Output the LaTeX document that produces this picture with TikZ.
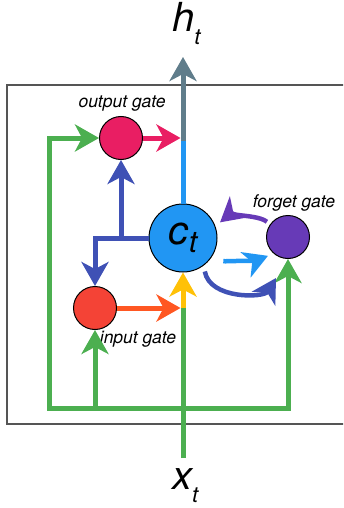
\documentclass[tikz,border=0pt]{standalone}
\usepackage{fontspec}
\setmainfont{TeX Gyre Heros}
\usepackage{tikz}
\usetikzlibrary{positioning,arrows.meta}
\definecolor{greenclr}{HTML}{4CAF50}
\definecolor{outclr}{HTML}{E91E63}
\definecolor{inclr}{HTML}{F44336}
\definecolor{orangeclr}{HTML}{FF5722}
\definecolor{cellclr}{HTML}{2196F3}
\definecolor{forgetclr}{HTML}{673AB7}
\definecolor{indigoclr}{HTML}{3F51B5}
\definecolor{yellowclr}{HTML}{FFC107}
\definecolor{grayclr}{HTML}{607D8B}
\definecolor{boxclr}{HTML}{555555}
\tikzset{
  gate/.style={circle,draw=black,line width=1pt,minimum size=43pt,inner sep=0pt},
  wire/.style={line width=5pt},
  flow/.style={line width=5pt,-{Stealth[length=24pt,width=27pt,inset=7pt]}},
  tag/.style={font=\fontsize{17.5}{17.5}\selectfont\itshape,anchor=base},
  big/.style={font=\fontsize{40}{40}\selectfont\itshape,anchor=base west,inner sep=0pt},
}

\begin{document}
\begin{tikzpicture}[x=1pt,y=-1pt]
\clip (0,0) rectangle (343,508);
\draw[boxclr,line width=1.5pt] (7,85) rectangle (380,424);

\node[gate,fill=outclr] (outgate) at (121,138) {};
\node[gate,fill=inclr] (ingate) at (95,308) {};
\node[gate,fill=forgetclr] (forget) at (288,237) {};
\node[gate,fill=cellclr,minimum size=68pt] (cell) at (183,238)
  {\fontsize{40}{40}\selectfont\itshape c\raisebox{-8pt}{\fontsize{30}{30}\selectfont t}};

\node[tag] (outlabel) at (122,108) {output gate};
\node[tag] (forgetlabel) at (294,207) {forget gate};
\node[tag] (inlabel) at (138,343) {input gate};
\node[big] (hlabel) at (172,32) {h\raisebox{-13pt}{\fontsize{22}{22}\selectfont t}};
\node[big] (xlabel) at (172,489) {x\raisebox{-13pt}{\fontsize{22}{22}\selectfont t}};

\coordinate (hjoin) at (183,138);
\coordinate (htip) at (183,57);
\coordinate (cjoin) at (183,308);
\coordinate (xin) at (183,458);
\coordinate (gleft) at (49,408);
\coordinate (gright) at (288,408);

% green input lines
\draw[wire,greenclr,line cap=rect] (gleft) -- (gright);
\draw[wire,greenclr] (xin) -- (cjoin);
\draw[flow,greenclr] (gleft) -- (gleft |- outgate) -- (outgate.west);
\draw[flow,greenclr] (ingate |- gleft) -- (ingate.south);
\draw[flow,greenclr] (gright) -- (forget.south);

% cell state
\draw[flow,yellowclr] (cjoin) -- (cell.south);
\draw[flow,orangeclr] (ingate.east) -- ([xshift=-2.5pt]cjoin);
\draw[flow,indigoclr] (cell.west) -- (ingate |- cell.west) -- (ingate.north);
\draw[flow,indigoclr] (outgate |- cell.west) -- (outgate.south);
\draw[wire,cellclr] (cell.north) -- (hjoin);
\draw[flow,outclr] (outgate.east) -- ([xshift=-2.5pt]hjoin);
\draw[flow,grayclr] ([yshift=-2.5pt]hjoin) -- (htip);

% forget loop
\draw[flow,forgetclr,line width=4.5pt,shorten <=4pt,shorten >=6pt]
  (forget.145) .. controls +(-12,-10) and +(12,-10) .. (cell.20);
\draw[flow,cellclr,line width=4.5pt,shorten <=12pt,shorten >=6pt]
  (cell.-31) .. controls +(12,6) and +(-15,6) .. (forget.229);
\draw[flow,indigoclr,line width=4.5pt,shorten <=6pt]
  (cell.-53) .. controls +(6,34) and +(-12,20) .. (276,278);
\end{tikzpicture}
\end{document}
